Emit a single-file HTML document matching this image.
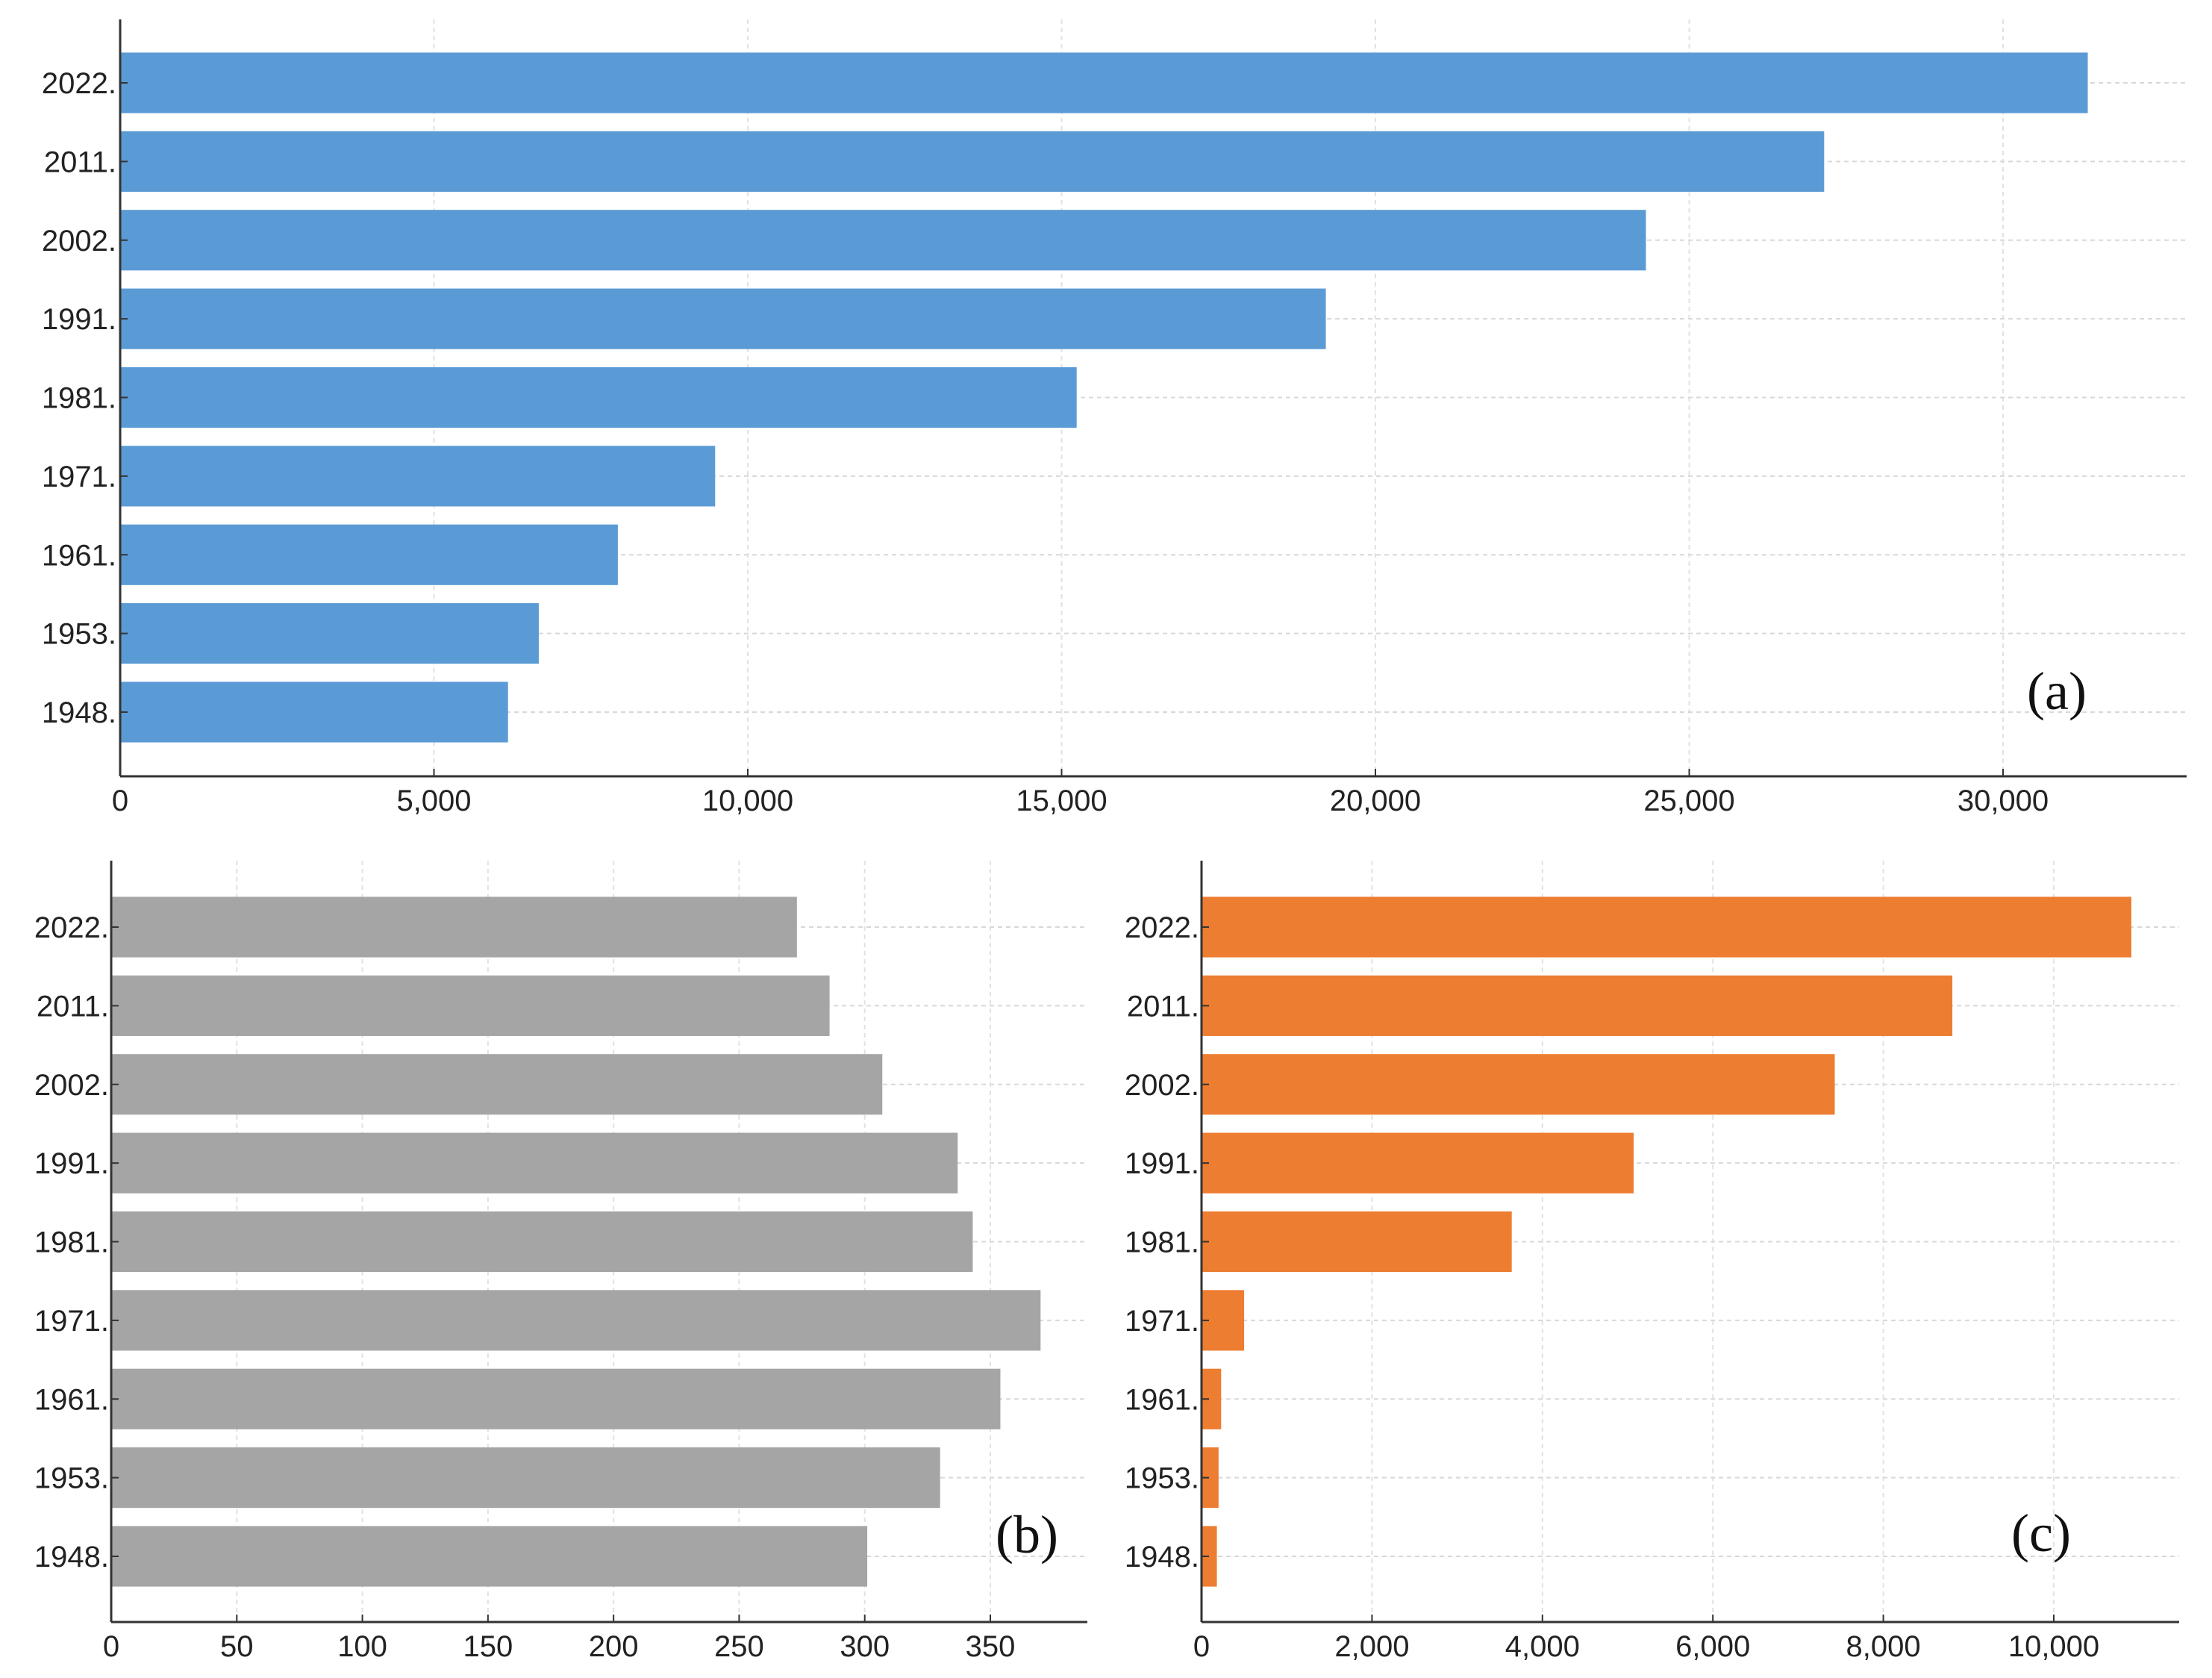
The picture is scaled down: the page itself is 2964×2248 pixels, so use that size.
<!DOCTYPE html>
<html><head><meta charset="utf-8">
<style>
html,body{margin:0;padding:0;background:#fff;}
svg{display:block;}
text{font-family:"Liberation Sans",sans-serif;fill:#222;}
.pl{font-family:"Liberation Serif",serif;fill:#111;}
</style></head>
<body>
<svg id="chart" width="2964" height="2248" viewBox="0 0 2964 2248" xmlns="http://www.w3.org/2000/svg"></svg>
<script>
const years = ["2022","2011","2002","1991","1981","1971","1961","1953","1948"];
const valuesA = [31350,27150,24310,19210,15240,9480,7930,6670,6180];
const valuesB = [273,286,307,337,343,370,354,330,301];
const valuesC = [10910,8810,7430,5070,3640,500,230,200,180];
const ticksA = [0,5000,10000,15000,20000,25000,30000];
const tickLabelsA = ["0","5,000","10,000","15,000","20,000","25,000","30,000"];
const ticksB = [0,50,100,150,200,250,300,350];
const tickLabelsB = ["0","50","100","150","200","250","300","350"];
const ticksC = [0,2000,4000,6000,8000,10000];
const tickLabelsC = ["0","2,000","4,000","6,000","8,000","10,000"];

const NS="http://www.w3.org/2000/svg";
const svg=document.getElementById('chart');
function mk(tag,attrs,parent){const e=document.createElementNS(NS,tag);for(const k in attrs)e.setAttribute(k,attrs[k]);(parent||svg).appendChild(e);return e;}

function panel(cfg){
  const g=mk('g',{});
  
  
  const x=v=>cfg.x0+(v-0)*(cfg.xRef-cfg.x0)/cfg.vRef;
  const step=(cfg.yLast-cfg.yFirst)/(years.length-1);
  const y=i=>cfg.yFirst+i*step;
  const bh=step*0.77;
  cfg.ticks.forEach((t,i)=>{
    if(t===0)return;
    const l=mk('line',{x1:x(t),x2:x(t),y1:cfg.top,y2:cfg.bottom,stroke:'#e2e2e2','stroke-width':2,'stroke-dasharray':'6,5'},g);
    
    
  });
  years.forEach((yr,i)=>{
    const l=mk('line',{x1:cfg.x0,x2:cfg.right,y1:y(i),y2:y(i),stroke:'#d8d8d8','stroke-width':2,'stroke-dasharray':'6,5'},g);
    
    
  });
  cfg.values.forEach((v,i)=>{
    const r=mk('rect',{x:x(0),y:y(i)-bh/2,width:x(v)-x(0),height:bh,fill:cfg.color},g);
    
    
  });
  const ya=mk('line',{x1:cfg.x0,x2:cfg.x0,y1:cfg.top,y2:cfg.bottom,stroke:'#333','stroke-width':3},g);
  
  
  const xa=mk('line',{x1:cfg.x0,x2:cfg.right,y1:cfg.bottom,y2:cfg.bottom,stroke:'#333','stroke-width':3},g);
  
  
  years.forEach((yr,i)=>{
    const t=mk('text',{x:cfg.labelRight,y:y(i)+14,'text-anchor':'end','font-size':40},g);
    t.textContent=yr+'.';
    
    
    mk('line',{x1:cfg.x0,x2:cfg.x0+10,y1:y(i),y2:y(i),stroke:'#333','stroke-width':2},g);
  });
  cfg.ticks.forEach((tv,i)=>{
    const t=mk('text',{x:x(tv),y:cfg.bottom+46,'text-anchor':'middle','font-size':40},g);
    t.textContent=cfg.tickLabels[i];
    
    
    mk('line',{x1:x(tv),x2:x(tv),y1:cfg.bottom,y2:cfg.bottom-10,stroke:'#333','stroke-width':2},g);
  });
  const p=mk('text',{x:cfg.px,y:cfg.py,'text-anchor':'middle','font-size':72,class:'pl'},g);
  p.textContent=cfg.plabel;
  
  
}

panel({name:'panel-a',values:valuesA,ticks:ticksA,tickLabels:tickLabelsA,color:'#5b9bd5',
  x0:161,xRef:2684,vRef:30000,right:2930,top:26,bottom:1040,yFirst:111,yLast:954,labelRight:156,
  px:2756,py:950,plabel:'(a)'});
panel({name:'panel-b',values:valuesB,ticks:ticksB,tickLabels:tickLabelsB,color:'#a5a5a5',
  x0:149,xRef:1327,vRef:350,right:1457,top:1153,bottom:2173,yFirst:1242,yLast:2085,labelRight:146,
  px:1376,py:2080,plabel:'(b)'});
panel({name:'panel-c',values:valuesC,ticks:ticksC,tickLabels:tickLabelsC,color:'#ed7d31',
  x0:1610,xRef:2752,vRef:10000,right:2920,top:1153,bottom:2173,yFirst:1242,yLast:2085,labelRight:1607,
  px:2735,py:2078,plabel:'(c)'});
</script>
</body></html>
